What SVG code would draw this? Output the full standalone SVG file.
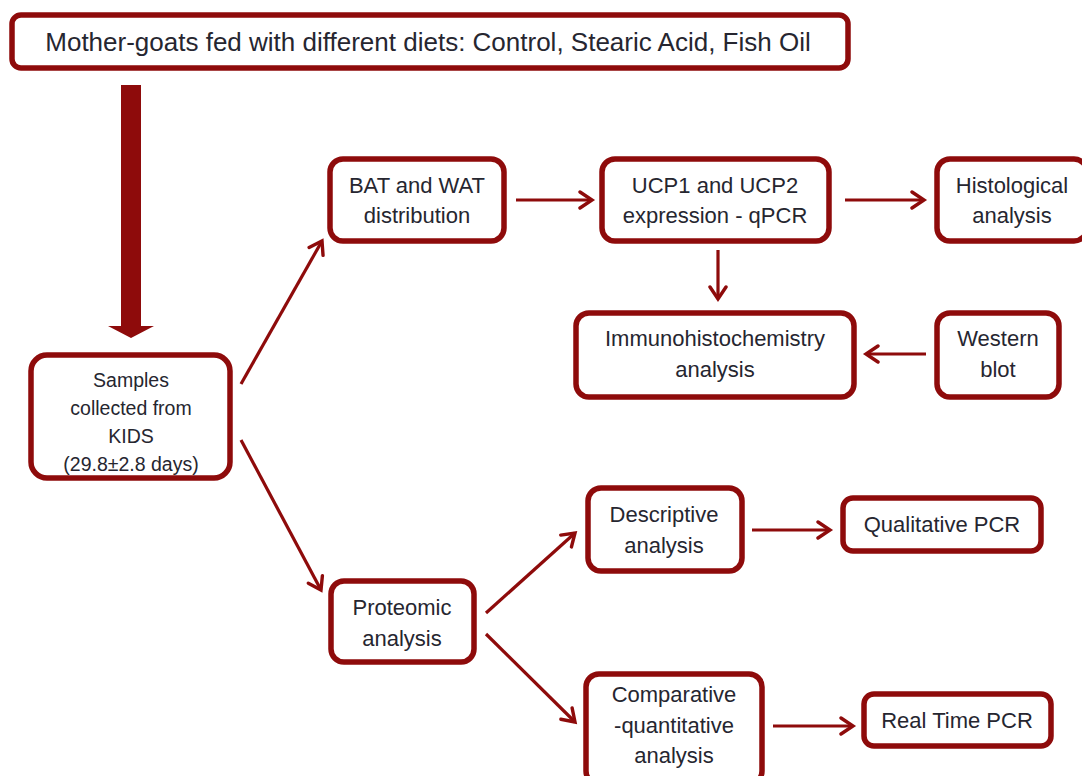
<svg xmlns="http://www.w3.org/2000/svg" width="1082" height="776" viewBox="0 0 1082 776">
<defs>
<style>
.box{fill:#fff;stroke:#8e0b0b;stroke-width:5.5}
.t{font-family:"Liberation Sans",Arial,sans-serif;fill:#262630;text-anchor:middle;font-size:22px}
.c{stroke:#8e0b0b;stroke-width:3.2;fill:none;marker-end:url(#ah)}
</style>
<marker id="ah" markerUnits="userSpaceOnUse" markerWidth="20" markerHeight="20" viewBox="-14 -10 16 20" refX="0" refY="0" orient="auto">
<path d="M-12,-8 L0,0 L-12,8" fill="none" stroke="#8e0b0b" stroke-width="3.4" stroke-linecap="round" stroke-linejoin="miter"/>
</marker>
</defs>
<rect width="1082" height="776" fill="#fff"/>
<g id="n-top"><rect class="box" x="12" y="15" width="836" height="53" rx="9"/><text class="t" x="428" y="51" style="font-size:26px">Mother-goats fed with different diets: Control, Stearic Acid, Fish Oil</text></g>
<g id="n-samples"><rect class="box" x="31" y="355" width="199" height="123" rx="16"/><text class="t" style="font-size:19.5px"><tspan x="131" y="387">Samples</tspan><tspan x="131" y="415">collected from</tspan><tspan x="131" y="443">KIDS</tspan><tspan x="131" y="471">(29.8±2.8 days)</tspan></text></g>
<g id="n-bat"><rect class="box" x="330" y="159" width="174" height="82" rx="13"/><text class="t"><tspan x="417" y="193">BAT and WAT</tspan><tspan x="417" y="223">distribution</tspan></text></g>
<g id="n-ucp"><rect class="box" x="602" y="159" width="227" height="82" rx="13"/><text class="t"><tspan x="715" y="193">UCP1 and UCP2</tspan><tspan x="715" y="223">expression - qPCR</tspan></text></g>
<g id="n-hist"><rect class="box" x="937" y="159" width="150" height="82" rx="13"/><text class="t"><tspan x="1012" y="193">Histological</tspan><tspan x="1012" y="223">analysis</tspan></text></g>
<g id="n-immuno"><rect class="box" x="576" y="313" width="278" height="84" rx="13"/><text class="t"><tspan x="715" y="346">Immunohistochemistry</tspan><tspan x="715" y="377">analysis</tspan></text></g>
<g id="n-western"><rect class="box" x="937" y="313" width="122" height="84" rx="13"/><text class="t"><tspan x="998" y="346">Western</tspan><tspan x="998" y="377">blot</tspan></text></g>
<g id="n-proteomic"><rect class="box" x="331" y="581" width="143" height="81" rx="13"/><text class="t"><tspan x="402" y="615">Proteomic</tspan><tspan x="402" y="646">analysis</tspan></text></g>
<g id="n-descriptive"><rect class="box" x="588" y="488" width="154" height="83" rx="13"/><text class="t"><tspan x="664" y="522">Descriptive</tspan><tspan x="664" y="553">analysis</tspan></text></g>
<g id="n-comparative"><rect class="box" x="586" y="674" width="176" height="110" rx="13"/><text class="t"><tspan x="674" y="702">Comparative</tspan><tspan x="674" y="733">-quantitative</tspan><tspan x="674" y="763">analysis</tspan></text></g>
<g id="n-qualitative"><rect class="box" x="843" y="498" width="198" height="53" rx="10"/><text class="t" x="942" y="532">Qualitative PCR</text></g>
<g id="n-realtime"><rect class="box" x="864" y="694" width="187" height="52" rx="10"/><text class="t" x="957" y="728">Real Time PCR</text></g>
<g id="connectors">
<path d="M121,85 H141 V326 H154 L131,338 L108,326 H121 Z" fill="#8e0b0b"/>
<line class="c" x1="516" y1="200" x2="592" y2="200"/>
<line class="c" x1="845" y1="200" x2="924" y2="200"/>
<line class="c" x1="718" y1="250" x2="718" y2="299"/>
<line class="c" x1="926" y1="354" x2="866" y2="354"/>
<line class="c" x1="241" y1="384" x2="322" y2="241"/>
<line class="c" x1="241" y1="440" x2="321" y2="590"/>
<line class="c" x1="486" y1="613" x2="575" y2="533"/>
<line class="c" x1="486" y1="634" x2="575" y2="722"/>
<line class="c" x1="752" y1="530" x2="830" y2="530"/>
<line class="c" x1="773" y1="726" x2="853" y2="726"/>
</g>
</svg>
